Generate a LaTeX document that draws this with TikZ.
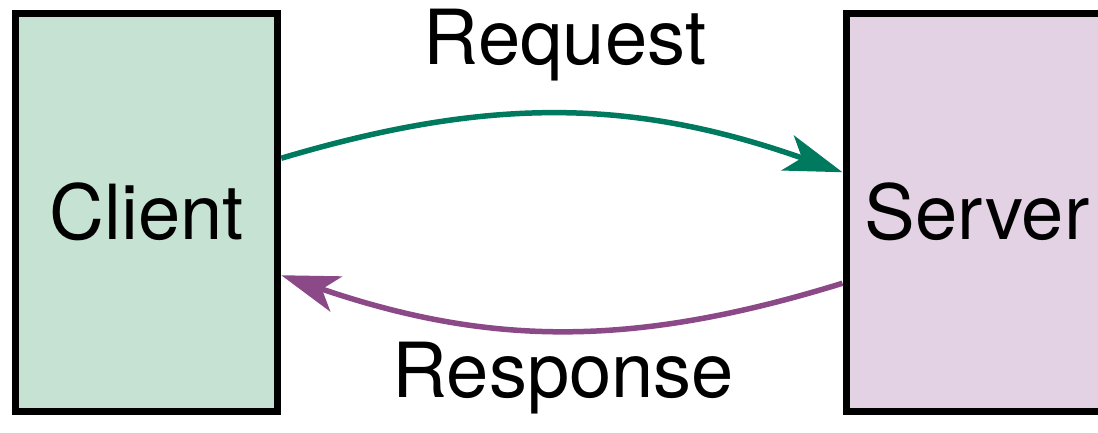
\documentclass[tikz,border=0pt]{standalone}
\usepackage{fontspec}
\setmainfont{TeX Gyre Heros}
\usetikzlibrary{arrows.meta}
\definecolor{clientfill}{RGB}{197,226,211}
\definecolor{serverfill}{RGB}{226,210,227}
\definecolor{reqgreen}{RGB}{0,122,94}
\definecolor{resppurple}{RGB}{139,74,135}
\begin{document}
\begin{tikzpicture}[x=1pt,y=1pt,
    hostbox/.style={draw=black,line width=7pt,minimum width=262pt,minimum height=397.5pt,
      inner sep=0pt,font=\fontsize{76}{80}\selectfont},
    msgarrow/.style={line width=5.5pt,-{Stealth[length=58pt,width=37pt,inset=15pt]}},
    msglabel/.style={anchor=base,inner sep=0pt,font=\fontsize{76}{80}\selectfont}]
  \useasboundingbox (0,0) rectangle (1098,432);
  \clip (0,0) rectangle (1098,432);
  \node[hostbox,fill=clientfill] (client) at (146.75,219.75) {Client};
  \node[hostbox,fill=serverfill] (server) at (977,219.75) {Server};
  \node[msglabel] (req) at (565,367) {Request};
  \node[msglabel] (resp) at (563.5,35) {Response};
  % request on top, response below
  \draw[msgarrow,reqgreen] ([yshift=54pt]client.east) to[bend left=18] ([yshift=40pt]server.west);
  \draw[msgarrow,resppurple] ([yshift=-71pt]server.west) to[bend left=18] ([yshift=-63pt]client.east);
\end{tikzpicture}
\end{document}
